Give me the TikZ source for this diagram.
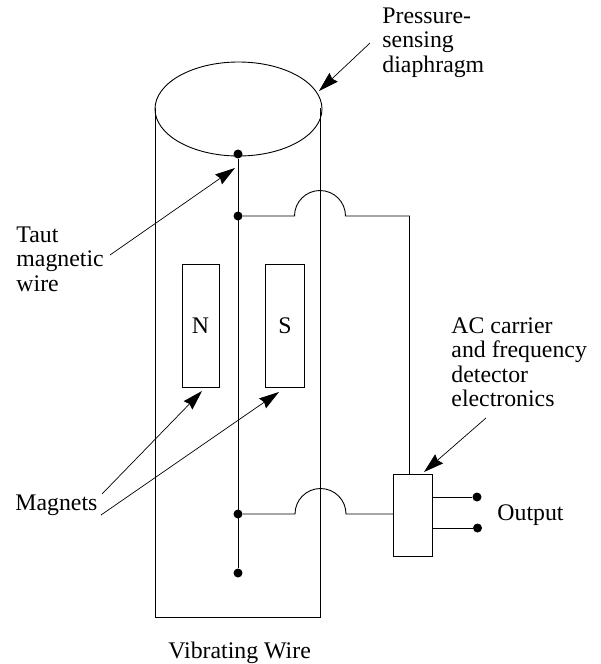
\documentclass[tikz,border=0pt]{standalone}
\usepackage{fontspec}
\setmainfont{Liberation Serif}
\usetikzlibrary{arrows.meta,shapes.geometric}
\tikzset{dot/.style={circle,fill=black,inner sep=0pt,minimum size=9pt},
lbl/.style={align=left,font=\fontsize{23.8pt}{24.5pt}\selectfont,inner sep=0pt,anchor=north west},
pointer/.style={line width=.7pt,-{Stealth[length=20pt,width=12pt,inset=2pt]}},
magnet/.style={draw,inner sep=0pt,font=\fontsize{23.8pt}{24pt}\selectfont}}
\begin{document}
\begin{tikzpicture}[x=1pt,y=-1pt,line width=.9pt]
\useasboundingbox (0,0) rectangle (600,664);
\node[draw,ellipse,minimum width=167pt,minimum height=94pt,inner sep=0pt] at (238.5,109) (diaphragm) {};
\draw (155,108) -- (155,617) -- (320,617) -- (320,108);
\node[dot] (top) at (238,154) {};
\node[dot] (mid) at (238,216) {};
\node[dot] (low) at (238,514) {};
\node[dot] (end) at (238,573) {};
\draw (top) -- (end);
\node[magnet,minimum width=37pt,minimum height=123pt] (N) at (200.5,325.5) {N\hspace{5pt}};
\node[magnet,minimum width=39pt,minimum height=123pt] (S) at (285,326) {S\hspace{4pt}};
\node[draw,minimum width=39pt,minimum height=82pt] (box) at (412.5,515) {};
\coordinate (upin) at (409.5,474);
\coordinate (lin) at (393,514);
\node[dot] (outa) at (477,497) {};
\node[dot] (outb) at (477.5,528) {};
\draw (432,497) -- (outa);
\draw (432,528) -- (outb);
\draw (mid) -- (294.5,216) arc (180:360:25.5) -- (409.5,216) -- (upin);
\draw (low) -- (295,514) arc (180:360:25.5) -- (lin);
\node[lbl] (press) at (382,7) {Pressure-\\sensing\\diaphragm};
\node[lbl] (taut) at (16,226) {Taut\\magnetic\\wire};
\node[lbl] (mag) at (15,494) {Magnets};
\node[lbl] (ac) at (451,317) {AC carrier\\and frequency\\detector\\electronics};
\node[lbl] (out) at (497,504) {Output};
\node[lbl] (cap) at (168,642) {Vibrating Wire};
\coordinate (pa) at (370,43);
\coordinate (pb) at (319,91);
\coordinate (ta) at (110,255);
\coordinate (tb) at (235,168);
\coordinate (ma) at (102,494);
\coordinate (mb) at (101,515);
\coordinate (mc) at (202,391);
\coordinate (md) at (279,392);
\coordinate (aa) at (486,418);
\coordinate (ab) at (424,472);
\draw[pointer] (pa) -- (pb);
\draw[pointer] (ta) -- (tb);
\draw[pointer] (ma) -- (mc);
\draw[pointer] (mb) -- (md);
\draw[pointer] (aa) -- (ab);
\end{tikzpicture}
\end{document}
